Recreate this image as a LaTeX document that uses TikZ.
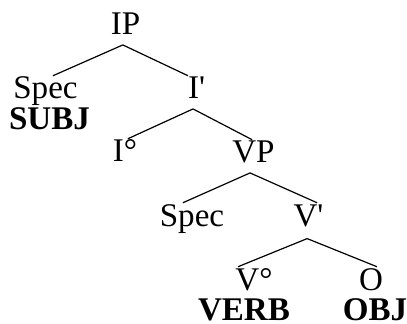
\documentclass[tikz,border=0pt]{standalone}
\usepackage{fontspec}
\setmainfont{Liberation Serif}
\usepackage{tikz}

\begin{document}
\begin{tikzpicture}[x=0.75pt,y=-0.75pt,yscale=1,xscale=1,line width=0.9pt,
  cat/.style={anchor=base,inner sep=0pt,text height=17pt,text depth=7pt,font=\fontsize{24.8}{28}\selectfont},
  word/.style={cat,text depth=0pt,font=\fontsize{24.8}{28}\selectfont\bfseries}]
\useasboundingbox (0,0) rectangle (407,324);
%Text
\node [cat] (IP) at (125.5,35) {IP};
\node [cat] (SpecI) at (45.5,99) {Spec};
\node [word] (subj) at (49.5,130) {SUBJ};
\node [cat] (Ibar) at (196.5,99) {I\textquotesingle};
\node [cat] (Izero) at (125,162) {I°};
\node [cat] (VP) at (253.5,163) {VP};
\node [cat] (SpecV) at (192,226) {Spec};
\node [cat] (Vbar) at (308.5,226) {V\textquotesingle};
\node [cat] (Vzero) at (254,290) {V°};
\node [cat] (O) at (371,290) {O};
\node [word] (verb) at (244,320.5) {VERB};
\node [word] (obj) at (375,320.5) {OBJ};
%Branches
\draw ([xshift=-2pt]IP.south) -- ([xshift=5.6pt]SpecI.north) ;
\draw ([xshift=-2pt]IP.south) -- ([xshift=-6.4pt]Ibar.north) ;
\draw ([xshift=-2.6pt]Ibar.south) -- ([xshift=2.2pt]Izero.north) ;
\draw ([xshift=-2.6pt]Ibar.south) -- ([xshift=-1pt]VP.north) ;
\draw ([xshift=-2.6pt]VP.south) -- ([xshift=-6.8pt]SpecV.north) ;
\draw ([xshift=-2.6pt]VP.south) -- ([xshift=6.4pt]Vbar.north) ;
\draw ([xshift=-1pt,yshift=-2pt]Vbar.south) -- ([xshift=-12pt]Vzero.north) ;
\draw ([xshift=-1pt,yshift=-2pt]Vbar.south) -- ([xshift=4.5pt]O.north) ;
\end{tikzpicture}
\end{document}
